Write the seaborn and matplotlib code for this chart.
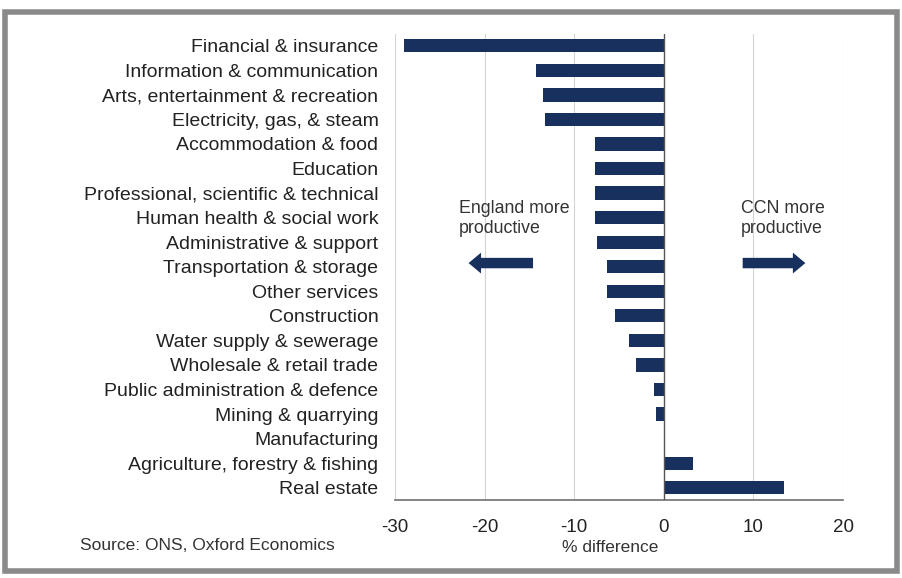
import seaborn as sns
import pandas as pd
import matplotlib.pyplot as plt
from matplotlib.patches import Rectangle

sectors = ['Financial & insurance', 'Information & communication',
           'Arts, entertainment & recreation', 'Electricity, gas, & steam',
           'Accommodation & food', 'Education',
           'Professional, scientific & technical', 'Human health & social work',
           'Administrative & support', 'Transportation & storage',
           'Other services', 'Construction', 'Water supply & sewerage',
           'Wholesale & retail trade', 'Public administration & defence',
           'Mining & quarrying', 'Manufacturing',
           'Agriculture, forestry & fishing', 'Real estate']
diff = [-29.0, -14.3, -13.5, -13.3, -7.7, -7.7, -7.7, -7.65, -7.5, -6.4,
        -6.3, -5.4, -3.9, -3.15, -1.1, -0.9, 0.0, 3.2, 13.4]
xticks = [-30, -20, -10, 0, 10, 20]

df = pd.DataFrame({'sector': sectors, 'diff': diff})

sns.set_style('white')
plt.rcParams['font.family'] = ['Liberation Sans', 'DejaVu Sans']

fig = plt.figure(figsize=(9.02, 5.78), dpi=100)
ax = fig.add_axes([0.438, 0.135, 0.4966, 0.807])

navy = '#18305e'
sns.barplot(data=df, y='sector', x='diff', orient='h', color=navy,
            width=0.54, saturation=1, linewidth=0, ax=ax)

# gridlines
for t in xticks:
    if t == 0:
        ax.axvline(t, color='#555555', lw=1.0, zorder=3)
    else:
        ax.axvline(t, color='#d4d4d4', lw=0.8, zorder=0)

ax.set_xlim(-30, 20)
ax.set_ylim(18.5, -0.5)
ax.set_xticks(xticks)
ax.set_xticklabels([str(t) for t in xticks], fontsize=13.5, color='#222222')
ax.set_yticks(range(len(sectors)))
ax.set_yticklabels(sectors, fontsize=14, color='#222222')
ax.tick_params(axis='y', length=0, pad=12)
ax.tick_params(axis='x', direction='out', length=5, color='#707070', pad=9)
ax.set_xlabel('% difference', fontsize=12.5, color='#333333')
ax.xaxis.set_label_coords(0.48, -0.085)
ax.set_ylabel('')
for s in ['top', 'right', 'left']:
    ax.spines[s].set_visible(False)
ax.spines['bottom'].set_color('#707070')
ax.spines['bottom'].set_linewidth(1.2)

# annotations with arrows
ax.text(-22.9, 7.05, 'England more\nproductive', fontsize=12.8, color='#333333',
        va='center', ha='left', linespacing=1.25)
ax.text(8.6, 7.05, 'CCN more\nproductive', fontsize=12.8, color='#333333',
        va='center', ha='left', linespacing=1.25)
astyle = 'simple,head_width=1.5,head_length=0.9,tail_width=0.75'
ax.annotate('', xy=(-21.8, 8.85), xytext=(-14.6, 8.85),
            arrowprops=dict(arrowstyle=astyle, color=navy, lw=0,
                            shrinkA=0, shrinkB=0))
ax.annotate('', xy=(15.8, 8.85), xytext=(8.8, 8.85),
            arrowprops=dict(arrowstyle=astyle, color=navy, lw=0,
                            shrinkA=0, shrinkB=0))

fig.text(0.089, 0.057, 'Source: ONS, Oxford Economics', fontsize=12.5,
         color='#333333', ha='left', va='center')

# gray frame around the chart
fig.patches.append(Rectangle((0.006, 0.012), 0.988, 0.968, transform=fig.transFigure,
                             fill=False, edgecolor='#8a8a8a', lw=4))

fig.savefig('out.png', dpi=100)
